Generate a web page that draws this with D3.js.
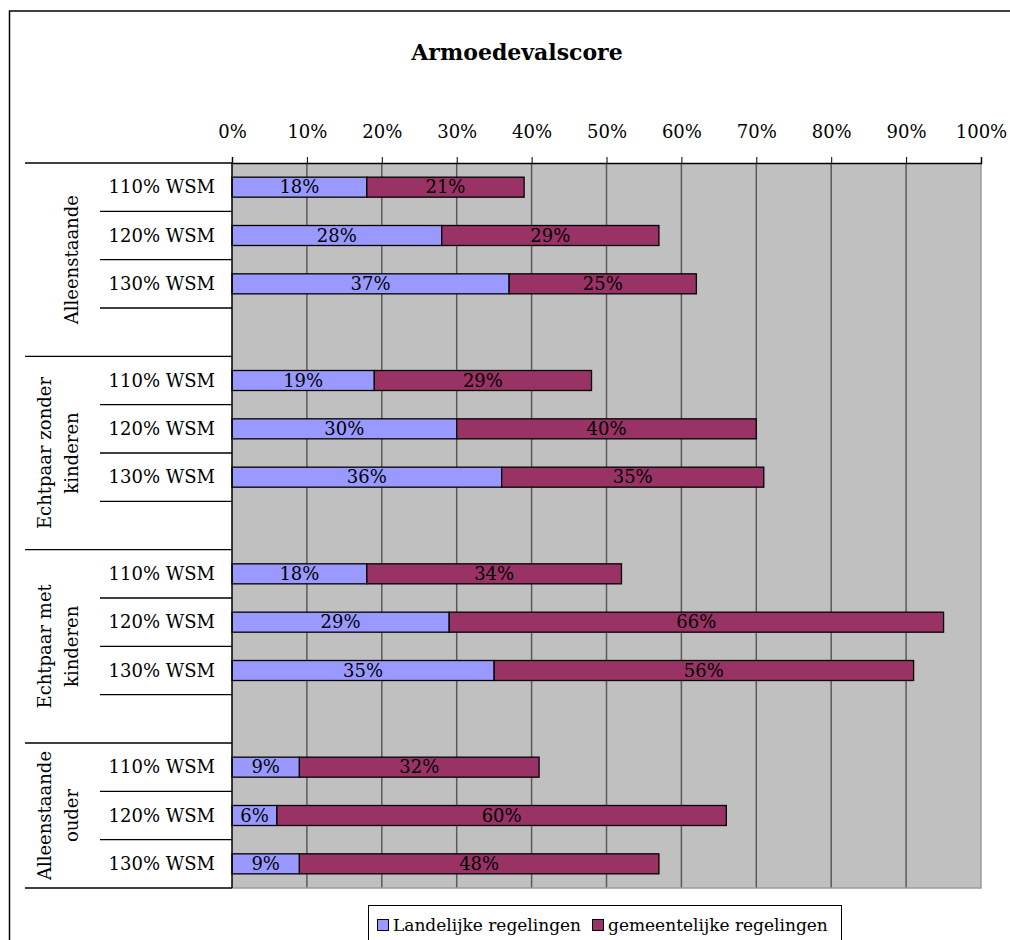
<!DOCTYPE html>
<html>
<head>
<meta charset="utf-8">
<script src="https://cdn.jsdelivr.net/npm/d3@7"></script>
<style>
  html, body { margin: 0; padding: 0; background: #fff; }
  svg { display: block; }
  text { font-family: "DejaVu Serif", serif; fill: #000; }
</style>
</head>
<body>
<svg id="chart" width="1010" height="940"></svg>
<script>
// Household types (outer category) and income levels (inner category)
const groups = ["Alleenstaande", "Echtpaar zonder kinderen", "Echtpaar met kinderen", "Alleenstaande ouder"];
const groupLines = [["Alleenstaande"], ["Echtpaar zonder", "kinderen"], ["Echtpaar met", "kinderen"], ["Alleenstaande", "ouder"]];
const levels = ["110% WSM", "120% WSM", "130% WSM"];

// Stacked series, one value per group × level (percent)
const seriesNames = ["Landelijke regelingen", "gemeentelijke regelingen"];
const landelijk = [18, 28, 37, 19, 30, 36, 18, 29, 35, 9, 6, 9];
const gemeentelijk = [21, 29, 25, 29, 40, 35, 34, 66, 56, 32, 60, 48];

const tickValues = [0, 10, 20, 30, 40, 50, 60, 70, 80, 90, 100];
const colors = ["#9999ff", "#993366"];

const svg = d3.select("#chart");

// Chart frame
svg.append("rect")
  .attr("x", 9.5).attr("y", 11)
  .attr("width", 1030).attr("height", 960)
  .attr("fill", "none").attr("stroke", "#000").attr("stroke-width", 1.5);

// Title
svg.append("text")
  .attr("x", 517).attr("y", 60)
  .attr("text-anchor", "middle")
  .style("font-weight", "bold").style("font-size", "22px")
  .text("Armoedevalscore");

// Row layout: every level of every group, with an empty row between groups
const rows = [];
groups.forEach((g, gi) => {
  levels.forEach((lv, li) => rows.push({ key: gi + "-" + li, group: gi, level: lv, idx: gi * levels.length + li }));
  if (gi < groups.length - 1) rows.push({ key: gi + "-gap", group: gi, level: null });
});

const plot = { left: 232, right: 981, top: 163, bottom: 888 };
const x = d3.scaleLinear().domain([0, 100]).range([plot.left, plot.right]);
const y = d3.scaleBand().domain(rows.map(r => r.key)).range([plot.top, plot.bottom]);
const barH = 20;

// Plot background
svg.append("rect")
  .attr("x", plot.left).attr("y", plot.top)
  .attr("width", plot.right - plot.left).attr("height", plot.bottom - plot.top)
  .attr("fill", "#c0c0c0");

// Vertical gridlines
svg.append("g").selectAll("line")
  .data(tickValues.filter(t => t > 0 && t < 100))
  .join("line")
  .attr("x1", d => x(d)).attr("x2", d => x(d))
  .attr("y1", plot.top).attr("y2", plot.bottom)
  .attr("stroke", "#5a5a5a").attr("stroke-width", 1.5);

// Plot border (right and bottom)
svg.append("path")
  .attr("d", `M${plot.right},${plot.top}V${plot.bottom}H${plot.left}`)
  .attr("fill", "none").attr("stroke", "#9a9a9a").attr("stroke-width", 1.5);

// Top value axis
const axis = d3.axisTop(x).tickValues(tickValues).tickSize(6).tickPadding(19).tickFormat(d => d + "%");
const ax = svg.append("g").attr("transform", `translate(0,${plot.top})`).call(axis);
ax.select(".domain").attr("stroke", "#000").attr("stroke-width", 1.5);
ax.selectAll(".tick line").attr("stroke", "#000");
ax.selectAll(".tick text").style("font-size", "18px").style("font-family", "DejaVu Serif, serif").attr("fill", "#000");

// Stacked bars
const barRows = rows.filter(r => r.level !== null);
const stacked = barRows.map(r => {
  const a = landelijk[r.idx], b = gemeentelijk[r.idx];
  return [
    { key: r.key, s: 0, x0: 0, x1: a, v: a },
    { key: r.key, s: 1, x0: a, x1: a + b, v: b }
  ];
}).flat();

const barG = svg.append("g");
barG.selectAll("rect")
  .data(stacked)
  .join("rect")
  .attr("x", d => x(d.x0))
  .attr("y", d => y(d.key) + y.bandwidth() / 2 - barH / 2)
  .attr("width", d => x(d.x1) - x(d.x0))
  .attr("height", barH)
  .attr("fill", d => colors[d.s])
  .attr("stroke", "#000").attr("stroke-width", 1.3);

barG.selectAll("text")
  .data(stacked)
  .join("text")
  .attr("x", d => (x(d.x0) + x(d.x1)) / 2)
  .attr("y", d => y(d.key) + y.bandwidth() / 2 + 6)
  .attr("text-anchor", "middle")
  .style("font-size", "18px")
  .text(d => d.v + "%");

// Left axis line
svg.append("line")
  .attr("x1", plot.left).attr("x2", plot.left)
  .attr("y1", plot.top).attr("y2", plot.bottom)
  .attr("stroke", "#000").attr("stroke-width", 1.5);

// Category axis: level labels
svg.append("g").selectAll("text")
  .data(barRows)
  .join("text")
  .attr("x", 215)
  .attr("y", d => y(d.key) + y.bandwidth() / 2 + 6)
  .attr("text-anchor", "end")
  .style("font-size", "18px")
  .text(d => d.level);

// Category axis: separator lines between levels within a group
const innerSeps = barRows.filter(r => {
  const i = rows.indexOf(r);
  return i < rows.length - 1 && rows[i + 1].group === r.group;
});
svg.append("g").selectAll("line")
  .data(innerSeps)
  .join("line")
  .attr("x1", 100).attr("x2", plot.left)
  .attr("y1", d => y(d.key) + y.bandwidth())
  .attr("y2", d => y(d.key) + y.bandwidth())
  .attr("stroke", "#000").attr("stroke-width", 1.3);

// Group extents
const groupExt = groups.map((g, gi) => {
  const rs = rows.filter(r => r.group === gi);
  return { gi, y0: y(rs[0].key), y1: y(rs[rs.length - 1].key) + y.bandwidth() };
});

// Category axis: group boundary lines
const bounds = [groupExt[0].y0].concat(groupExt.map(e => e.y1));
svg.append("g").selectAll("line")
  .data(bounds)
  .join("line")
  .attr("x1", 25).attr("x2", plot.left)
  .attr("y1", d => d).attr("y2", d => d)
  .attr("stroke", "#000").attr("stroke-width", 1.3);

// Category axis: rotated group labels
groupExt.forEach(e => {
  const lines = groupLines[e.gi];
  const cy = (e.y0 + e.y1) / 2;
  const xs = lines.length === 1 ? [72] : [45, 72];
  lines.forEach((ln, k) => {
    svg.append("text")
      .attr("transform", `translate(${xs[k] + 6},${cy}) rotate(-90)`)
      .attr("text-anchor", "middle")
      .style("font-size", "18px")
      .text(ln);
  });
});

// Legend
const lg = svg.append("g");
lg.append("rect")
  .attr("x", 368.5).attr("y", 905.5)
  .attr("width", 473).attr("height", 60)
  .attr("fill", "#fff").attr("stroke", "#000").attr("stroke-width", 1);
const legendX = [377, 592];
seriesNames.forEach((name, i) => {
  lg.append("rect")
    .attr("x", legendX[i] + 0.5).attr("y", 919.5)
    .attr("width", 11).attr("height", 11)
    .attr("fill", colors[i]).attr("stroke", "#000").attr("stroke-width", 1);
  lg.append("text")
    .attr("x", legendX[i] + 16).attr("y", 931)
    .style("font-size", "17px")
    .text(name);
});
</script>
</body>
</html>
